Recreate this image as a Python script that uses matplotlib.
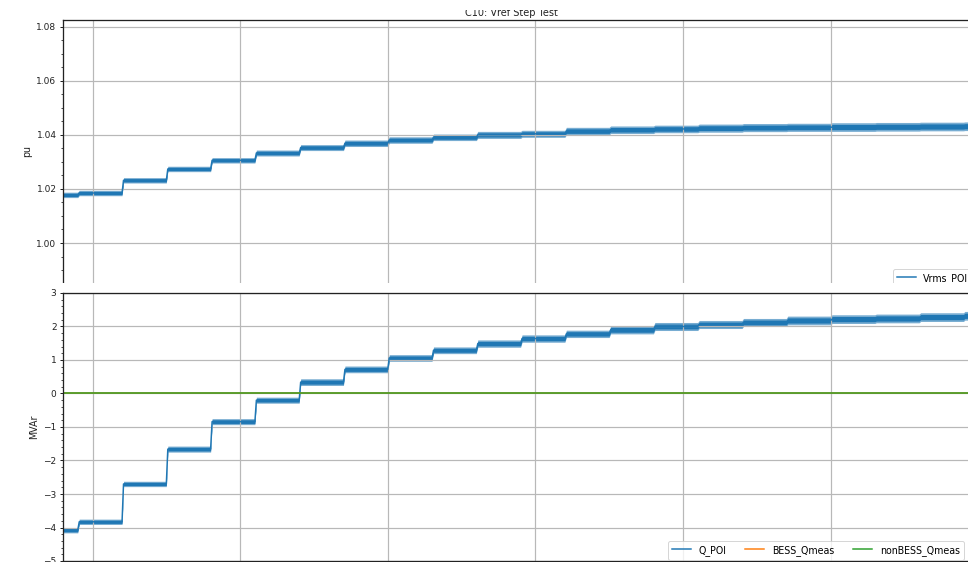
import numpy as np
import matplotlib
matplotlib.use("Agg")
import matplotlib.pyplot as plt
from matplotlib.patches import Rectangle
from matplotlib.ticker import MultipleLocator, AutoMinorLocator, FormatStrFormatter

# ---- data -------------------------------------------------------------
t_start = 40.0
t_end = 350.6
# Vref step instants (s)
step_times = [45, 60, 75, 90, 105, 120, 135, 150, 165, 180, 195,
              210, 225, 240, 255, 270, 285, 300, 315, 330, 345]

# POI voltage level held after each step (pu)
vrms_levels = [1.0178, 1.0185, 1.0232, 1.0274, 1.0306, 1.0333, 1.0353,
               1.0369, 1.0381, 1.0391, 1.0400, 1.0404, 1.0414, 1.0419,
               1.0422, 1.0425, 1.0427, 1.0428, 1.0429, 1.0430, 1.0431,
               1.0432]
# peak ripple around each voltage level (pu)
vrms_ripple = [0.0010, 0.0010, 0.0010, 0.0010, 0.0010, 0.0011, 0.0011,
               0.0012, 0.0012, 0.0012, 0.0013, 0.0013, 0.0014, 0.0014,
               0.0014, 0.0015, 0.0015, 0.0015, 0.0016, 0.0016, 0.0016,
               0.0016]

# POI reactive power level held after each step (MVAr)
q_poi_levels = [-4.08, -3.83, -2.70, -1.66, -0.84, -0.20, 0.34, 0.72,
                1.06, 1.29, 1.49, 1.64, 1.78, 1.90, 2.00, 2.06, 2.12,
                2.18, 2.22, 2.24, 2.28, 2.32]
# peak ripple around each reactive power level (MVAr)
q_poi_ripple = [0.08, 0.08, 0.08, 0.09, 0.09, 0.09, 0.10, 0.10, 0.10,
                0.10, 0.11, 0.11, 0.11, 0.12, 0.12, 0.12, 0.12, 0.13,
                0.13, 0.13, 0.13, 0.13]

bess_q_levels = [0.0] * 22
nonbess_q_levels = [0.0] * 22

RAMP = 0.5  # rise time of each step (s)
LW = 1.5


def staircase(levels):
    t = [t_start]
    y = [levels[0]]
    for i, ts in enumerate(step_times):
        t += [ts, ts + RAMP]
        y += [levels[i], levels[i + 1]]
    t.append(t_end)
    y.append(levels[-1])
    return np.array(t), np.array(y)


def noisy_trace(ax, levels, ripple, color, label):
    t, y = staircase(levels)
    _, r = staircase(ripple)
    ax.fill_between(t, y - r, y + r, color=color, alpha=0.6, lw=0)
    ax.fill_between(t, y - 0.6 * r, y + 0.6 * r, color=color, lw=0)
    ax.plot(t, y, color=color, lw=LW, label=label)


# ---- figure -----------------------------------------------------------
W, H, DPI = 968, 562, 72
fig = plt.figure(figsize=(W / DPI, H / DPI), dpi=DPI)


def px_rect(left, top, right, bottom):
    return [left / W, 1 - bottom / H, (right - left) / W, (bottom - top) / H]


ax_v = fig.add_axes(px_rect(63, 19.5, 980, 283))
ax_q = fig.add_axes(px_rect(63, 293, 980, 561))
ax_q.set_zorder(2)

blue, orange, green = "#1f77b4", "#ff7f0e", "#2ca02c"

noisy_trace(ax_v, vrms_levels, vrms_ripple, blue, "Vrms_POI")

noisy_trace(ax_q, q_poi_levels, q_poi_ripple, blue, "Q_POI")
tb, yb = staircase(bess_q_levels)
ax_q.plot(tb, yb, color=orange, lw=LW, label="BESS_Qmeas")
tn, yn = staircase(nonbess_q_levels)
ax_q.plot(tn, yn, color=green, lw=LW, label="nonBESS_Qmeas")

for ax in (ax_v, ax_q):
    ax.set_xlim(t_start, t_end)
    ax.xaxis.set_major_locator(MultipleLocator(50))
    ax.tick_params(axis="x", labelbottom=False, length=3.5)
    ax.yaxis.set_minor_locator(AutoMinorLocator())
    ax.tick_params(axis="y", which="major", labelsize=9, length=3.5,
                   width=1.0, pad=3, colors="#222222")
    ax.tick_params(axis="y", which="minor", length=2, width=0.8,
                   colors="#222222")
    ax.grid(True, which="major", color="#b8b8b8", lw=1.2)
    for s in ax.spines.values():
        s.set_color("#222222")
        s.set_linewidth(1.3)

ax_v.set_ylim(0.9852, 1.0827)
ax_v.yaxis.set_major_locator(MultipleLocator(0.02))
ax_v.yaxis.set_major_formatter(FormatStrFormatter("%.2f"))
ax_v.spines["bottom"].set_visible(False)
ax_v.set_ylabel("pu", fontsize=9.5, color="#222222")

ax_q.set_ylim(-5, 3)
ax_q.yaxis.set_major_locator(MultipleLocator(1))
ax_q.set_ylabel("MVAr", fontsize=9.5, color="#222222")

ax_v.legend(loc="upper left", bbox_to_anchor=(893 / W, 1 - 269 / H),
            bbox_transform=fig.transFigure, borderaxespad=0, fontsize=9.5)
ax_q.legend(loc="upper left", bbox_to_anchor=(668 / W, 1 - 541 / H),
            bbox_transform=fig.transFigure, borderaxespad=0, fontsize=9.5,
            ncol=3)

# blank strip separating the two panels
fig.add_artist(Rectangle((0, 1 - 293 / H), 1.1, 10.5 / H,
                         transform=fig.transFigure, facecolor="white",
                         edgecolor="none", zorder=1))

fig.text(511 / W, 1 - 15.5 / H, "C10: Vref Step Test", ha="center",
         va="baseline", fontsize=9.7, color="#222222")
fig.add_artist(Rectangle((0, 1 - 9.5 / H), 1, 9.5 / H,
                         transform=fig.transFigure, facecolor="white",
                         edgecolor="none", zorder=4))

fig.savefig("out.png", dpi=DPI)
